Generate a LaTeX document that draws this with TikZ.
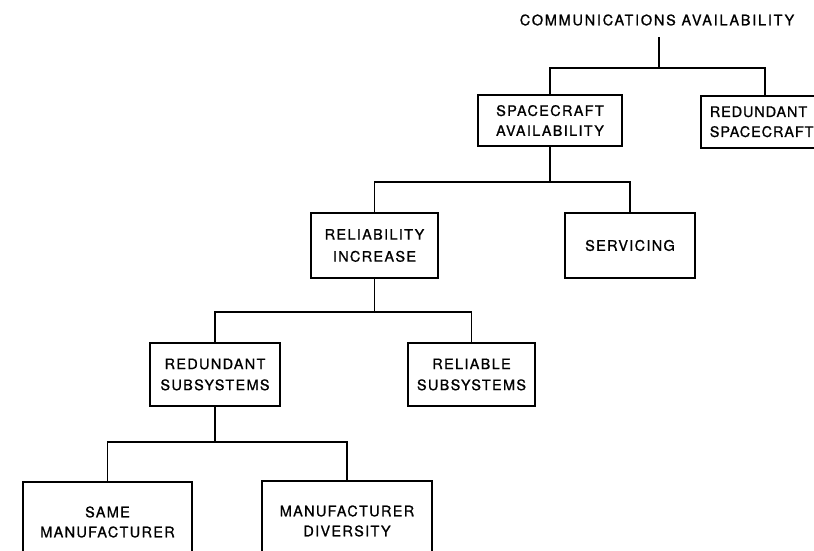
\documentclass[tikz,border=0pt]{standalone}
\usepackage{fontspec}
\setmainfont{TeX Gyre Heros}[LetterSpace=9,FakeBold=1]
\begin{document}
\begin{tikzpicture}[x=1pt,y=-1pt,line width=1.6pt,
  box/.style={draw,rectangle,align=center,inner sep=0pt,font=\fontsize{14.5}{20}\selectfont},
  lbl/.style={inner sep=0pt,font=\fontsize{14.5}{20}\selectfont\addfontfeatures{LetterSpace=12}}]
\useasboundingbox (0,0) rectangle (814,550);
\clip (0,0) rectangle (814,550);
% title
\node[lbl] (t) at (657,20) {COMMUNICATIONS AVAILABILITY};
% boxes
\node[box,minimum width=144pt,minimum height=51pt] (sa) at (550,120.5) {SPACECRAFT\\AVAILABILITY};
\node[box,anchor=north west,text width=96pt,inner xsep=9pt,minimum height=52pt,
  font=\fontsize{14.5}{20}\selectfont\addfontfeatures{LetterSpace=6}] (rs) at (700,95) {REDUNDANT\\SPACECRAFT};
\node[box,minimum width=127pt,minimum height=65pt] (ri) at (374.5,245.5) {RELIABILITY\\[2pt]INCREASE};
\node[box,minimum width=130pt,minimum height=65pt] (sv) at (630,245.5) {SERVICING};
\node[box,minimum width=130pt,minimum height=63pt] (rds) at (215,374.5) {REDUNDANT\\[1pt]SUBSYSTEMS};
\node[box,minimum width=127pt,minimum height=63pt] (rls) at (471.5,374.5) {RELIABLE\\[1pt]SUBSYSTEMS};
\node[box,minimum width=169pt,minimum height=80pt] (sm) at (107.5,522) {SAME\\MANUFACTURER};
\node[box,minimum width=170pt,minimum height=80pt] (md) at (347,521) {MANUFACTURER\\DIVERSITY};
% junctions
\coordinate (tb) at (659,37);
\coordinate (j1) at (659,68);
\coordinate (rsin) at (765,95);
\coordinate (j2) at (550,182);
\coordinate (j3) at (374.5,312);
\coordinate (j4) at (215,442);
% connectors
\draw (tb) -- (j1);
\draw (sa.north) |- (j1) -| (rsin);
\draw (sa.south) -- (j2);
\draw (ri.north) |- (j2) -| (sv.north);
\draw (ri.south) -- (j3);
\draw (rds.north) |- (j3) -| (rls.north);
\draw (rds.south) -- (j4);
\draw (sm.north) |- (j4) -| (md.north);
\end{tikzpicture}
\end{document}
